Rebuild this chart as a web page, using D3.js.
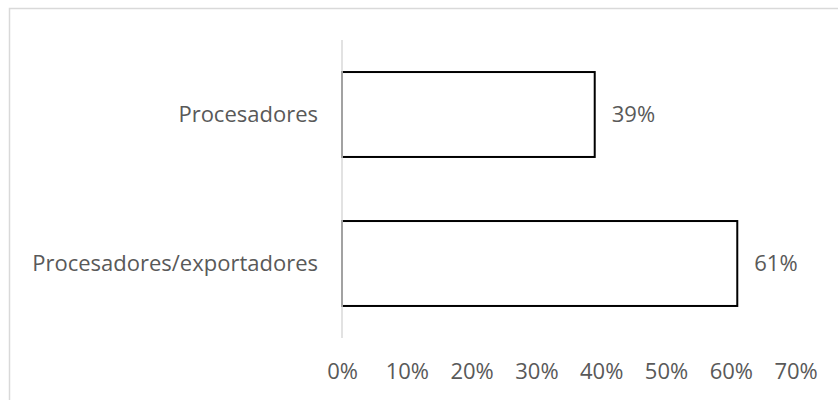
<!DOCTYPE html>
<html>
<head>
<meta charset="utf-8">
<script src="https://cdn.jsdelivr.net/npm/d3@7"></script>
<style>
  body { margin: 0; background: #fff; }
  text { font-family: "Open Sans", sans-serif; fill: #595959; }
</style>
</head>
<body>
<svg id="drawing_region"></svg>
<script>
const categories = ["Procesadores", "Procesadores/exportadores"];
const values = [0.39, 0.61];
const tick_values = [0, 0.1, 0.2, 0.3, 0.4, 0.5, 0.6, 0.7];

const width = 838, height = 400;
const margin = {top: 40, right: 42.4, bottom: 62, left: 342};
const font_size = '22px';

const svg = d3.select('#drawing_region')
    .attr('width', width)
    .attr('height', height);

// chart area border
svg.append('rect')
    .attr('x', 9.5).attr('y', 8.5)
    .attr('width', width + 10).attr('height', height + 10)
    .attr('fill', 'none')
    .attr('stroke', '#d9d9d9')
    .attr('stroke-width', 1.5);

const chart = svg.append('g')
    .attr('transform', `translate(${margin.left}, ${margin.top})`);

const inner_width = width - margin.left - margin.right;
const inner_height = height - margin.top - margin.bottom;

const xscale = d3.scaleLinear().domain([0, 0.7]).range([0, inner_width]);
const yscale = d3.scaleBand().domain(categories).range([0, inner_height])
    .paddingInner(0.43).paddingOuter(0.215);

const data = categories.map((c, i) => ({cat: c, value: values[i]}));

// bars
chart.selectAll('rect.bar')
    .data(data)
    .enter()
    .append('rect')
    .attr('class', 'bar')
    .attr('x', 0)
    .attr('y', d => yscale(d.cat))
    .attr('width', d => xscale(d.value))
    .attr('height', yscale.bandwidth())
    .attr('fill', '#fff')
    .attr('stroke', '#000')
    .attr('stroke-width', 2);

// vertical axis line
chart.append('line')
    .attr('x1', 0).attr('x2', 0)
    .attr('y1', 0).attr('y2', inner_height)
    .attr('stroke', '#d9d9d9')
    .attr('stroke-width', 1.5);

// category labels
chart.selectAll('text.cat')
    .data(data)
    .enter()
    .append('text')
    .attr('class', 'cat')
    .attr('x', -24)
    .attr('y', d => yscale(d.cat) + yscale.bandwidth() / 2)
    .attr('dy', '0.35em')
    .attr('text-anchor', 'end')
    .style('font-size', font_size)
    .text(d => d.cat);

// value labels
chart.selectAll('text.val')
    .data(data)
    .enter()
    .append('text')
    .attr('class', 'val')
    .attr('x', d => xscale(d.value) + 17)
    .attr('y', d => yscale(d.cat) + yscale.bandwidth() / 2)
    .attr('dy', '0.35em')
    .style('font-size', font_size)
    .text(d => d3.format('.0%')(d.value));

// x axis tick labels
const xaxis = d3.axisBottom(xscale)
    .tickValues(tick_values)
    .tickFormat(d3.format('.0%'))
    .tickSize(0);

const xaxis_group = chart.append('g')
    .attr('transform', `translate(0, ${inner_height})`)
    .call(xaxis);
xaxis_group.select('.domain').remove();
xaxis_group.selectAll('text')
    .attr('y', 33)
    .attr('dy', '0.35em')
    .style('font-size', font_size)
    .style('font-family', '"Open Sans", sans-serif')
    .attr('fill', '#595959');
</script>
</body>
</html>
